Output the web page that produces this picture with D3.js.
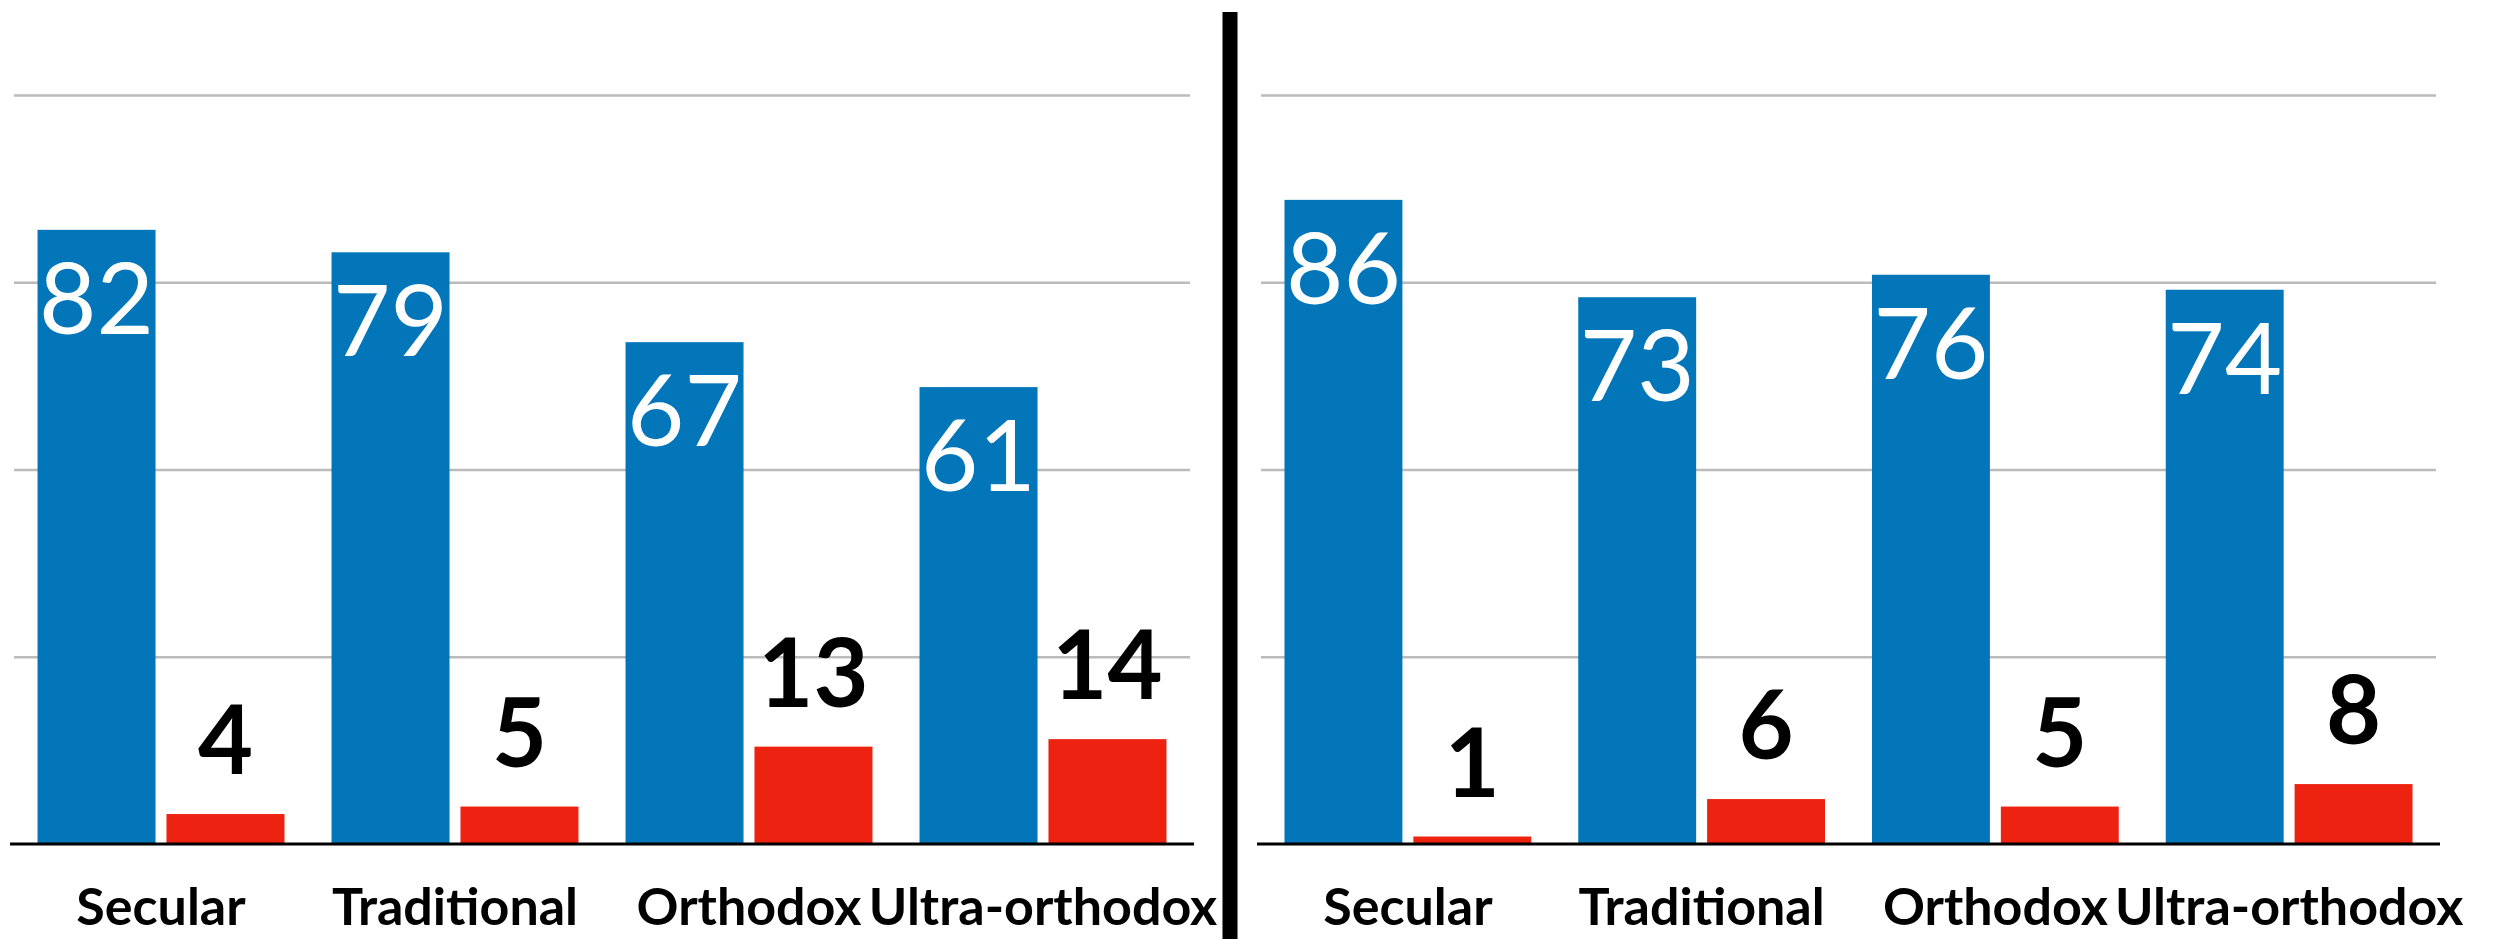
<!DOCTYPE html>
<html lang="en">
  <head>
    <meta charset="UTF-8" />
    <title>Chart</title>
    <style>
      body { margin: 0; background: #fff; }
      svg { display: block; font-family: Lato, "Noto Sans", sans-serif; }
      .grid line { stroke: #bbbbbb; stroke-width: 2.5px; }
      .grid path { display: none; }
      .base path { stroke: #000; stroke-width: 3px; }
      .base text { font-family: Lato, "Noto Sans", sans-serif; font-size: 52px; font-weight: 700; fill: #000; }
    </style>
  </head>
  <body>
    <svg></svg>
    <script src="https://cdnjs.cloudflare.com/ajax/libs/d3/7.1.0/d3.min.js"></script>
    <script>
      const categories = ["Secular", "Traditional", "Orthodox", "Ultra-orthodox"];
      const series = ["blue", "red"];
      const leftBlue = [82, 79, 67, 61];
      const leftRed = [4, 5, 13, 14];
      const rightBlue = [86, 73, 76, 74];
      const rightRed = [1, 6, 5, 8];
      const yTicks = [25, 50, 75, 100];

      const width = 2493, height = 939;
      const colors = { blue: "#0276b9", red: "#ee2210" };

      const svg = d3.select("svg").attr("width", width).attr("height", height);

      const y = d3.scaleLinear().domain([0, 100]).range([844, 95]);

      function panel(x0, x1, blue, red) {
        const g = svg.append("g");
        const x = d3.scaleBand().domain(categories).range([x0, x1])
          .paddingInner(0.16).paddingOuter(0.08);
        const xs = d3.scaleBand().domain(series).range([0, x.bandwidth()])
          .paddingInner(0.085);

        // gridlines
        g.append("g")
          .attr("class", "grid")
          .attr("transform", "translate(" + x0 + ",0)")
          .call(d3.axisLeft(y).tickValues(yTicks).tickSize(-(x1 - x0)).tickFormat(""));

        const rows = categories.map((c, i) => ({ cat: c, blue: blue[i], red: red[i] }));

        const groups = g.selectAll(".grp").data(rows).enter().append("g")
          .attr("transform", d => "translate(" + x(d.cat) + ",0)");

        groups.append("rect")
          .attr("x", xs("blue")).attr("width", xs.bandwidth())
          .attr("y", d => y(d.blue)).attr("height", d => y(0) - y(d.blue))
          .attr("fill", colors.blue);

        groups.append("rect")
          .attr("x", xs("red")).attr("width", xs.bandwidth())
          .attr("y", d => y(d.red)).attr("height", d => y(0) - y(d.red))
          .attr("fill", colors.red);

        groups.append("text")
          .attr("x", xs("blue") + xs.bandwidth() / 2)
          .attr("y", d => y(d.blue) + 104)
          .attr("text-anchor", "middle")
          .attr("fill", "#fff")
          .style("font-size", "99px")
          .style("font-weight", 400)
          .text(d => d.blue);

        groups.append("text")
          .attr("x", xs("red") + xs.bandwidth() / 2)
          .attr("y", d => y(d.red) - 40)
          .attr("text-anchor", "middle")
          .attr("fill", "#000")
          .style("font-size", "95px")
          .style("font-weight", 700)
          .text(d => d.red);

        // baseline + category labels
        const base = g.append("g")
          .attr("class", "base")
          .attr("transform", "translate(0," + y(0) + ")")
          .call(d3.axisBottom(x).tickSize(0).tickSizeOuter(0));
        base.select(".domain").attr("d", "M" + (x0 - 4) + ",0H" + (x1 + 4));
        base.selectAll("text").attr("y", 81).attr("dy", 0);
      }

      panel(14, 1190, leftBlue, leftRed);
      panel(1261, 2436, rightBlue, rightRed);

      // divider
      svg.append("line")
        .attr("x1", 1230).attr("x2", 1230)
        .attr("y1", 12).attr("y2", height)
        .attr("stroke", "#000").attr("stroke-width", 15);
    </script>
  </body>
</html>
